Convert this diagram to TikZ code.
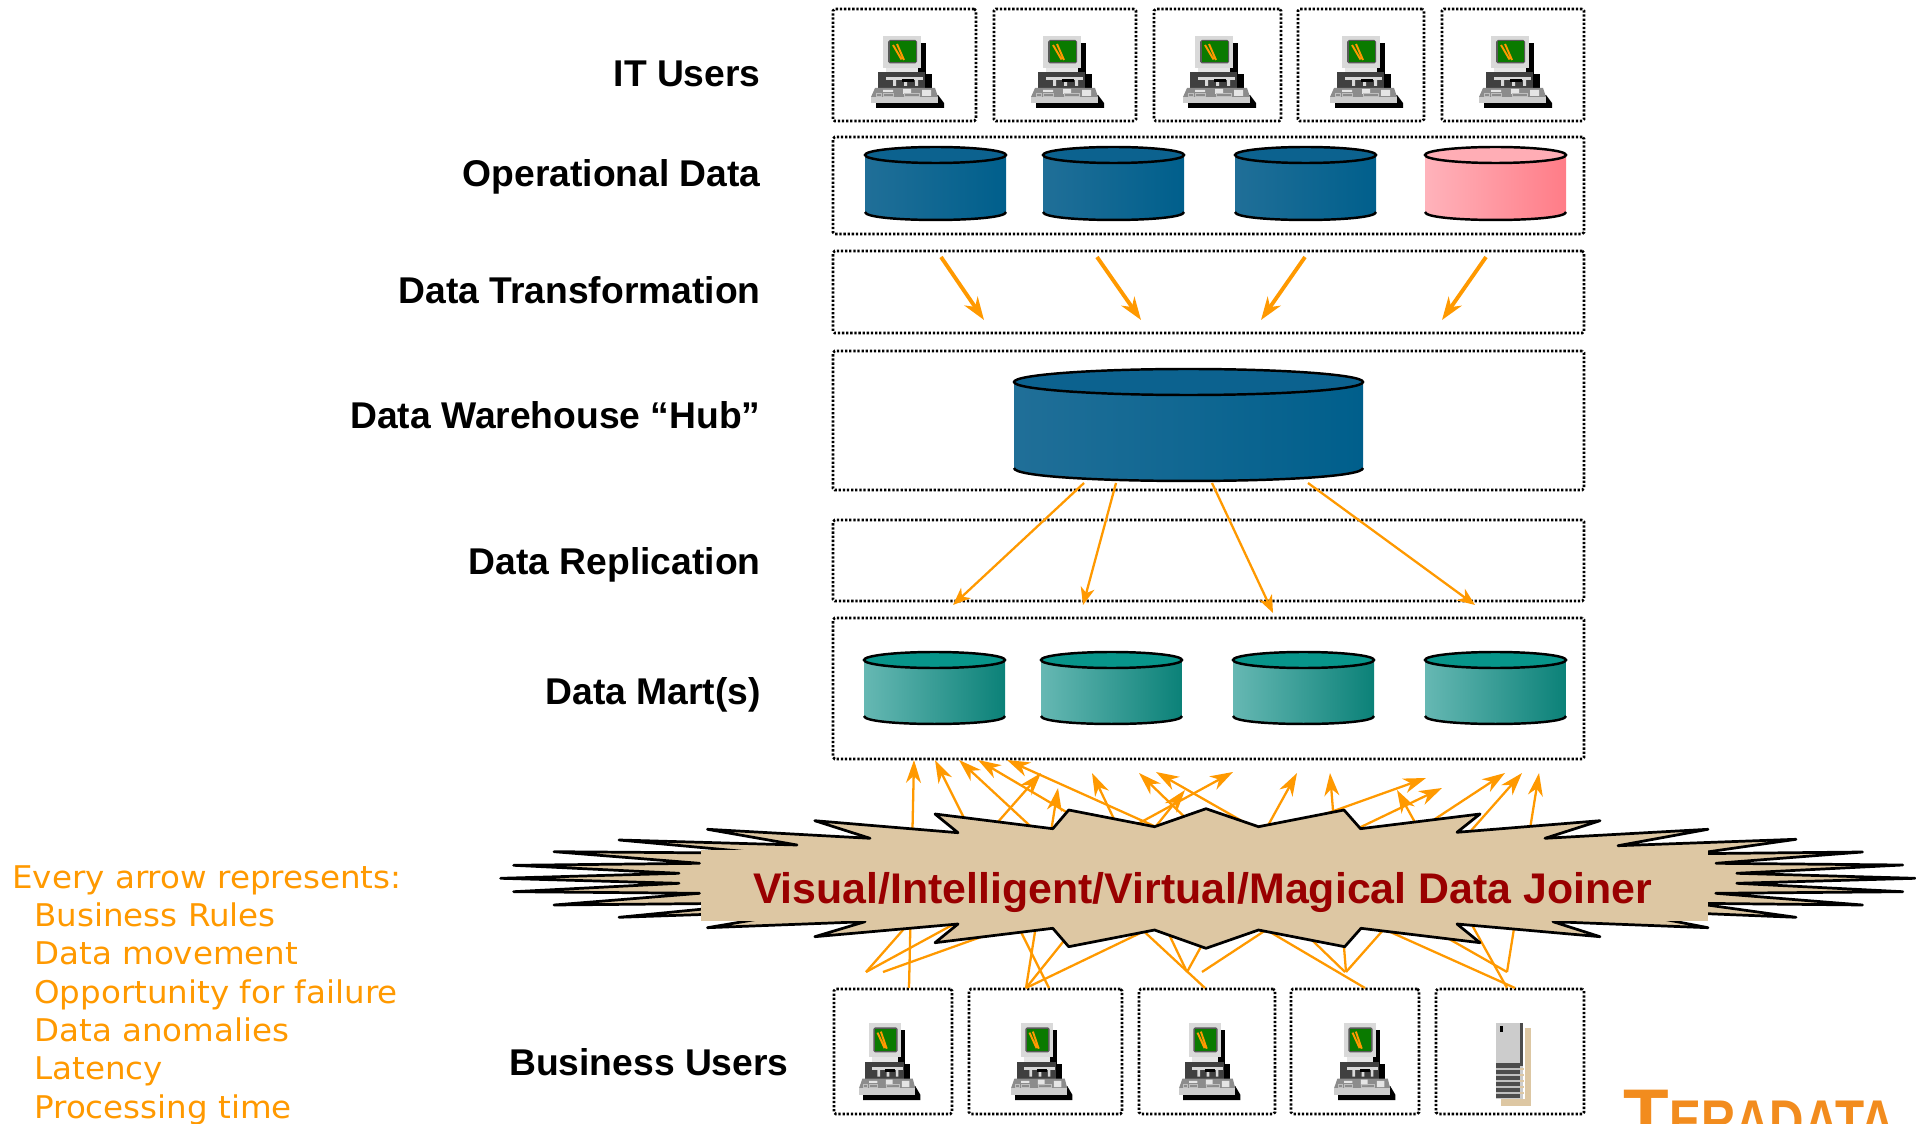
\documentclass[tikz,border=0pt]{standalone}
\usepackage{fontspec}
\setmainfont{Liberation Sans}
\newfontfamily\notefont{DejaVu Sans}
\usetikzlibrary{arrows.meta,fit}
\definecolor{arroworange}{HTML}{FF9900}
\definecolor{burstTan}{HTML}{DDC7A3}
\definecolor{joinerred}{HTML}{990000}
\definecolor{logoorange}{HTML}{F28C1E}
\definecolor{blueleft}{HTML}{206F98}
\definecolor{blueright}{HTML}{005F8C}
\definecolor{bluetop}{HTML}{0C628F}
\definecolor{pinkleft}{HTML}{FFB3BB}
\definecolor{pinkright}{HTML}{FF7C87}
\definecolor{pinktop}{HTML}{FFADB5}
\definecolor{tealleft}{HTML}{66B8B3}
\definecolor{tealright}{HTML}{0B8178}
\definecolor{tealtop}{HTML}{07958A}
\definecolor{screengreen}{HTML}{0A7A00}

\tikzstyle{dotbox} = [draw,line width=1.45pt,dash pattern=on 1.3pt off 1.05pt,inner sep=0pt,rounded corners=1pt]
\tikzstyle{rowlabel} = [anchor=base east,inner sep=0pt,font=\fontsize{21.2}{25}\selectfont\bfseries]
\tikzstyle{noteline} = [anchor=base west,inner sep=0pt,text=arroworange,xscale=1.04,font=\notefont\fontsize{17.8}{21}\selectfont]
\tikzstyle{cyledge} = [draw,black,line width=1.4pt]
\tikzstyle{thickarrow} = [draw,arroworange,line width=2.2pt,-{Stealth[length=13pt,width=9pt,inset=4pt]}]
\tikzstyle{replarrow} = [draw,arroworange,line width=1.3pt,-{Stealth[length=10pt,width=8pt,inset=3pt]}]
\tikzstyle{joinarrow} = [draw,arroworange,line width=1.3pt,-{Stealth[length=13pt,width=8.5pt,inset=4pt]}]

\tikzset{
  pics/pcdesk/.style={code={
    \fill[black] (17,7) rectangle (55,41);
    \fill[black] (50,38) rectangle (61,56);
    \fill[black] (5,62) -- (67,59) -- (73,67) -- (73,72) -- (5,72) -- cycle;
    \fill[black!15] (12,0) rectangle (50,32);
    \fill[black!10] (15,32) rectangle (47,37);
    \fill[black] (18,37) rectangle (49,41);
    \fill[black!65,rounded corners=1pt] (17,4) rectangle (46,27.5);
    \fill[screengreen] (18.5,5.5) rectangle (44.5,26);
    \draw[arroworange,line width=1.1pt] (22,9) -- (30.5,23.5) (26,8) -- (33,24);
    \fill[black!75] (7,36) rectangle (54,52);
    \fill[black!15] (15,41) rectangle (52,44);
    \fill[black!15] (22,44) rectangle (25,50) (33,44) rectangle (36,50) (44,44) rectangle (47,50);
    \fill[black] (31,43) rectangle (43,46);
    \fill[black!45] (4,52) -- (64,52) -- (67,61) -- (0,61) -- cycle;
    \fill[black!20] (0,61) rectangle (67,67);
    \fill[black!10] (12,54) rectangle (22,56) (32,53) rectangle (40,58) (51,54) rectangle (60,60);
    \draw[black!25,line width=.5pt] (5,57) rectangle (10,60) (12,57) rectangle (22,60) (33,57) rectangle (48,60);
  }},
  pics/servertower/.style={code={
    \fill[burstTan] (5,5) rectangle (35,83);
    \fill[black!20] (0,0) rectangle (29,76);
    \fill[white] (27,0) rectangle (29,76);
    \fill[black!70] (23.5,0) rectangle (27,43);
    \fill[black!70] (0,40) rectangle (24,75);
    \fill[black] (4,3) rectangle (7,9);
    \foreach \yy in {46,52,58,64,70} {
      \draw[black!25,line width=.6pt] (0,\yy) -- (24,\yy);
      \draw[burstTan,line width=.6pt] (24,\yy) -- (28,\yy);
    }
  }}
}

\begin{document}
\begin{tikzpicture}[x=0.02cm,y=-0.02cm]
  \useasboundingbox (0,0) rectangle (1916,1124);
  \clip (0,0) rectangle (1916,1124);

  %boxes
  \foreach \boxname/\xa/\ya/\xb/\yb in {
    ita/833/9/976/121, itb/994/9/1136/121, itc/1154/9/1281/121, itd/1298/9/1424/121, ite/1442/9/1584/121,
    opdata/833/137/1584/234, transform/833/251/1584/333, hubbox/833/351/1584/490,
    repl/833/520/1584/601, marts/833/618/1584/759,
    busa/834/989/952/1114, busb/969/989/1122/1114, busc/1139/989/1275/1114,
    busd/1291/989/1419/1114, buse/1436/989/1584/1114}
  {
    \node[dotbox,fit={(\xa,\ya) (\xb,\yb)}] (\boxname) {};
  };

  %row labels
  \foreach \labelname/\x/\y/\txt in {
    lblit/761/87/IT Users, lblop/761/187/Operational Data, lbltr/761/304/Data Transformation,
    lblhub/761/429/Data Warehouse “Hub”, lblrep/761/575/Data Replication,
    lblmart/761/704/Data Mart(s), lblbus/789/1075/Business Users}
  {
    \node[rowlabel] (\labelname) at (\x,\y) {\txt};
  };

  %computers
  \foreach \x in {871,1031,1183,1330,1479}
  {
    \pic at (\x,36) {pcdesk};
  };
  \foreach \x in {859,1011,1179,1334}
  {
    \pic[xscale=0.84,yscale=1.07] at (\x,1023) {pcdesk};
  };
  \pic at (1496,1023) {servertower};

  %cylinders
  \foreach \cylname/\xl/\xr/\yt/\yb/\ry/\cleft/\cright/\ctop in {
    opa/865/1006/155/212/8/blueleft/blueright/bluetop,
    opb/1043/1184/155/212/8/blueleft/blueright/bluetop,
    opc/1235/1376/155/212/8/blueleft/blueright/bluetop,
    opd/1425/1566/155/212/8/pinkleft/pinkright/pinktop,
    hub/1014/1363/382/468/13/blueleft/blueright/bluetop,
    marta/864/1005/660/716/8/tealleft/tealright/tealtop,
    martb/1041/1182/660/716/8/tealleft/tealright/tealtop,
    martc/1233/1374/660/716/8/tealleft/tealright/tealtop,
    martd/1425/1566/660/716/8/tealleft/tealright/tealtop}
  {
    \shade[left color=\cleft,right color=\cright] (\xl,\yt) -- (\xr,\yt) -- (\xr,\yb)
      .. controls (\xr,\yb+1.33*\ry) and (\xl,\yb+1.33*\ry) .. (\xl,\yb) -- cycle;
    \path[cyledge] (\xl,\yb) .. controls (\xl,\yb+1.33*\ry) and (\xr,\yb+1.33*\ry) .. (\xr,\yb);
    \path[cyledge,fill=\ctop] ({(\xl+\xr)/2},\yt) ellipse [x radius={(\xr-\xl)/2},y radius=\ry];
    \coordinate (\cylname) at ({(\xl+\xr)/2},\yb);
  };

  %transformation arrows
  \foreach \n/\xa/\ya/\xb/\yb in {1/941/257/984/320, 2/1097/257/1141/320, 3/1305/257/1261/320, 4/1486/257/1442/320}
  {
    \coordinate (trf\n) at (\xa,\ya);
    \coordinate (trt\n) at (\xb,\yb);
    \path[thickarrow] (trf\n) -- (trt\n);
  };

  %replication arrows
  \foreach \n/\xa/\ya/\xb/\yb in {1/1084/483/953/605, 2/1116/483/1083/605, 3/1212/483/1273/613, 4/1308/483/1475/605}
  {
    \coordinate (rpf\n) at (\xa,\ya);
    \coordinate (rpt\n) at (\xb,\yb);
    \path[replarrow] (rpf\n) -- (rpt\n);
  };

  %joiner arrows
  \foreach \n/\xa/\ya/\xb/\yb in {
    1/909/988/914/760, 2/1049/988/935/760, 3/866/972/1041/773, 4/866/972/1233/772, 5/883/972/1426/778,
    6/1365/988/978/760, 7/1515/988/1007/760, 8/1205/988/959/760, 9/1026/988/1058/788, 10/1187/972/1092/773,
    11/1345/972/1139/773, 12/1507/972/1156/772, 13/1507/972/1539/773, 14/1507/988/1397/790, 15/1187/972/1297/773,
    16/1202/972/1505/773, 17/1026/988/1442/788, 18/1026/988/1185/790, 19/1346/972/1522/773, 20/1346/972/1330/773}
  {
    \coordinate (jf\n) at (\xa,\ya);
    \coordinate (jt\n) at (\xb,\yb);
    \path[joinarrow] (jf\n) -- (jt\n);
  };

  %burst
  \draw[black,fill=burstTan,line width=1.55pt,line join=round]
    (500.6,878.3) -- (679,873.3) -- (513.6,865.3) -- (699.5,863.3) -- (554,851.7) -- (764.7,853.3)
    -- (619,840) -- (797,845) -- (707.4,829.3) -- (870,838.3) -- (814.8,820.7) -- (958,832.7)
    -- (935,814) -- (1052.8,828.7) -- (1068.7,810) -- (1154.5,826.7) -- (1206,808.7) -- (1258.5,826.7)
    -- (1344,810) -- (1360.5,828.7) -- (1480,814) -- (1457,832.3) -- (1600,820.7) -- (1545,838.3)
    -- (1708,829.3) -- (1618,845.7) -- (1796,839.3) -- (1695,853.7) -- (1862.5,852) -- (1716,863.3)
    -- (1902.8,865) -- (1736.8,873.3) -- (1915,878.3) -- (1736.8,883.3) -- (1902.8,891.7) -- (1715.8,893.3)
    -- (1862.5,905) -- (1695,903.3) -- (1796,917.3) -- (1616,910) -- (1708,927.7) -- (1553,921.7)
    -- (1600,936.7) -- (1457,924) -- (1480,942.7) -- (1361,928.3) -- (1344.7,946.7) -- (1258.5,930)
    -- (1206,948.3) -- (1154.5,930) -- (1068.7,946.7) -- (1052.8,928.3) -- (935,942.7) -- (958,924)
    -- (814.8,936.7) -- (865,921.7) -- (707.4,927.7) -- (806,911) -- (619,917.3) -- (764.7,903)
    -- (554,905) -- (699.5,893.3) -- (513.6,891.7) -- (679,883.3) -- cycle;
  \fill[burstTan] (701,850) rectangle (1707.5,921);
  \node[inner sep=0pt,text=joinerred,font=\fontsize{24.4}{29}\selectfont\bfseries] (joiner) at (1202.5,892.5) {Visual/Intelligent/Virtual/Magical Data Joiner};

  %note
  \node[noteline] (notehead) at (12,888) {Every arrow represents:};
  \foreach \notename/\y/\txt in {
    notea/926/Business Rules, noteb/964/Data movement, notec/1003/Opportunity for failure,
    noted/1041/Data anomalies, notee/1079/Latency, notef/1118/Processing time}
  {
    \node[noteline] (\notename) at (34,\y) {\txt};
  };

  %logo
  \node[anchor=base west,inner sep=0pt,text=logoorange,font=\fontsize{42.5}{50}\selectfont\bfseries] (logot) at (1623,1141) {T};
  \node[anchor=base west,inner sep=0pt,text=logoorange,xscale=0.81,font=\fontsize{33.5}{40}\selectfont\bfseries] (logorest) at (1669,1141) {ERADATA};
\end{tikzpicture}
\end{document}
